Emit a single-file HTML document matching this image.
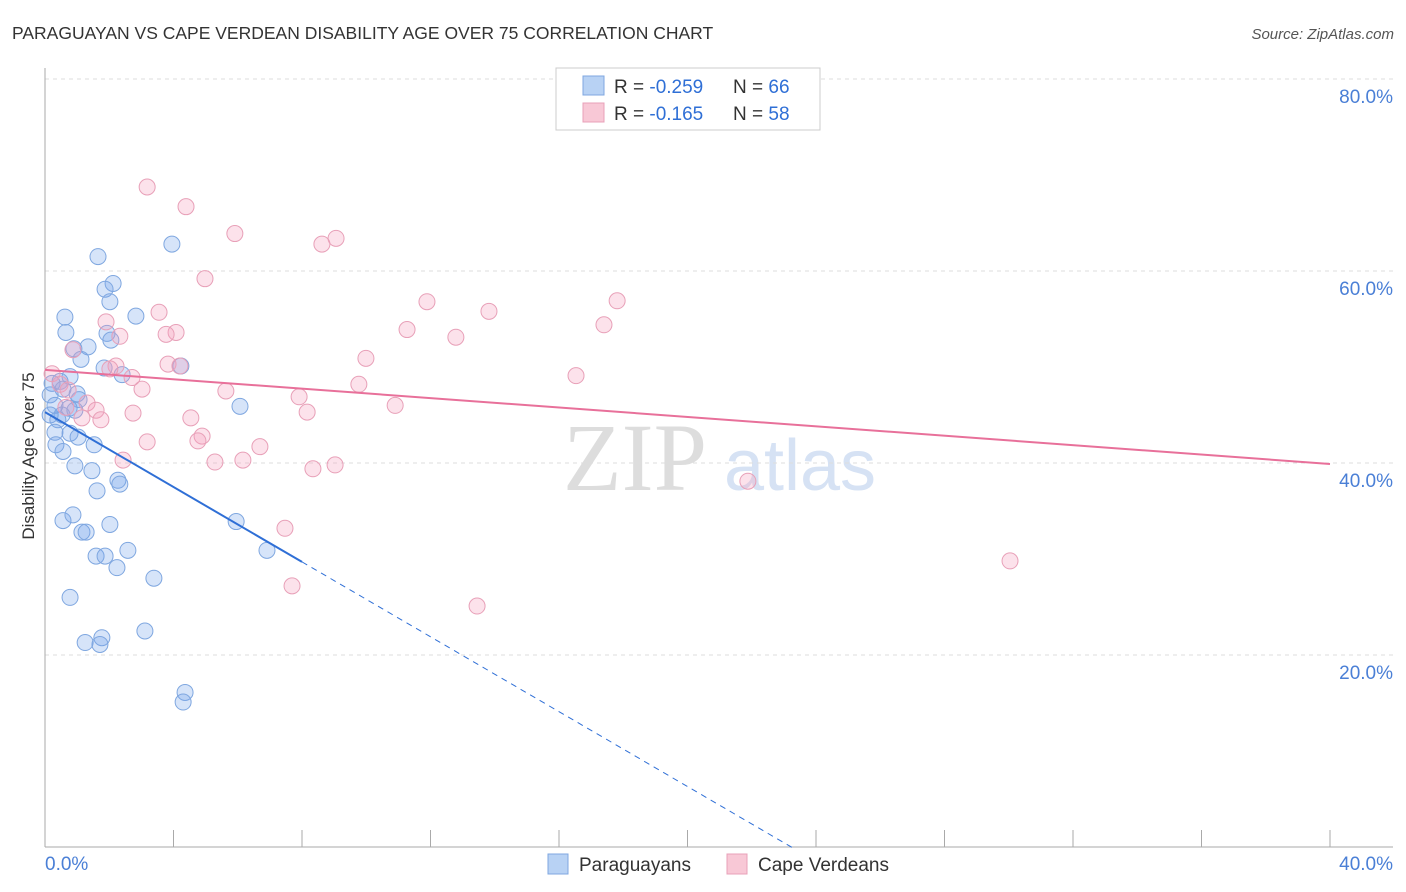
<!DOCTYPE html>
<html><head><meta charset="utf-8"><style>
body{margin:0;background:#fff;font-family:"Liberation Sans",sans-serif;}
svg{display:block}
</style></head><body>
<svg id="chart" width="1406" height="892">
<text x="12" y="39" font-size="17.5" fill="#333">PARAGUAYAN VS CAPE VERDEAN DISABILITY AGE OVER 75 CORRELATION CHART</text>
<text x="1394" y="39" font-size="15" fill="#555" font-style="italic" text-anchor="end">Source: ZipAtlas.com</text>
<text x="34" y="456" font-size="17" fill="#333" text-anchor="middle" transform="rotate(-90 34 456)">Disability Age Over 75</text>
<g><text x="635" y="490" font-size="96" fill="#ddd" text-anchor="middle" font-family="Liberation Serif,serif">ZIP</text><text x="800" y="490" font-size="72" fill="#d6e2f4" text-anchor="middle">atlas</text></g>
<g id="grid"></g><g id="axes"></g><g id="marks"></g>
<g>
<rect x="556" y="68" width="264" height="62" fill="#fff" stroke="#ccc"/>
<rect x="583" y="76" width="21" height="19" fill="#b8d2f4" stroke="#7fa7e0"/>
<rect x="583" y="103" width="21" height="19" fill="#f8c8d6" stroke="#e8a0b8"/>
<text x="614" y="93" font-size="19" fill="#333">R = <tspan fill="#2f6fd6">-0.259</tspan><tspan x="733">N = </tspan><tspan fill="#2f6fd6">66</tspan></text>
<text x="614" y="120" font-size="19" fill="#333">R = <tspan fill="#2f6fd6"> -0.165</tspan><tspan x="733">N = </tspan><tspan fill="#2f6fd6">58</tspan></text>
</g>
<g>
<rect x="548" y="854" width="20" height="20" fill="#b8d2f4" stroke="#7fa7e0"/>
<text x="579" y="871" font-size="19" fill="#333">Paraguayans</text>
<rect x="727" y="854" width="20" height="20" fill="#f8c8d6" stroke="#e8a0b8"/>
<text x="758" y="871" font-size="19" fill="#333">Cape Verdeans</text>
</g>
</svg>
<script>
const yTicks=[20,40,60,80];
const yTickLabels=["20.0%","40.0%","60.0%","80.0%"];
const xEndLabels=["0.0%","40.0%"];
const blueX=[1.65,3.95,2.12,1.87,2.02,0.62,2.83,0.65,1.93,2.05,1.34,0.9,1.12,4.23,1.84,2.4,0.78,0.47,0.22,0.56,1.0,0.16,1.06,0.31,0.75,0.93,6.07,0.53,0.16,0.4,0.31,0.78,1.03,0.34,1.53,0.56,0.93,1.46,1.62,2.27,2.33,0.56,0.87,2.02,1.15,1.28,5.95,1.59,1.87,2.58,6.91,2.24,3.39,0.78,3.11,1.77,1.25,1.71,4.36,4.3];
const blueY=[61.5,62.8,58.7,58.1,56.8,55.2,55.3,53.6,53.5,52.8,52.1,51.9,50.8,50.1,49.9,49.2,49.0,48.5,48.3,47.7,47.2,47.1,46.6,46.0,45.7,45.5,45.9,45.0,45.0,44.5,43.2,43.1,42.7,41.9,41.9,41.2,39.7,39.2,37.1,38.2,37.8,34.0,34.6,33.6,32.8,32.8,33.9,30.3,30.3,30.9,30.9,29.1,28.0,26.0,22.5,21.8,21.3,21.1,16.1,15.1];
const pinkX=[3.18,4.39,5.91,9.06,8.62,4.98,11.89,17.81,13.82,3.55,11.27,17.4,1.9,2.33,4.08,12.79,3.77,0.87,9.99,3.83,2.21,4.2,2.02,0.22,2.71,16.53,9.77,0.47,3.02,5.63,0.72,7.91,10.9,1.31,0.65,1.59,8.16,2.74,4.54,1.15,1.74,4.89,4.76,6.69,3.18,2.43,6.16,5.29,9.03,8.34,21.88,7.47,30.04,7.69,13.45];
const pinkY=[68.75,66.7,63.9,63.4,62.8,59.2,56.8,56.9,55.8,55.7,53.9,54.4,54.7,53.2,53.6,53.1,53.4,51.8,50.9,50.3,50.1,50.1,49.8,49.3,48.9,49.1,48.2,48.2,47.7,47.5,47.6,46.9,46.0,46.25,45.8,45.5,45.3,45.2,44.7,44.7,44.5,42.8,42.3,41.7,42.2,40.3,40.3,40.1,39.8,39.4,38.1,33.2,29.8,27.2,25.1];
const blueTrend=[45.3,-1.95]; // intercept, slope
const pinkTrend=[49.7,-0.245];
const blueSolidEnd=8.0, blueDashEnd=23.35;
const X=v=>45+v*32.125, Y=v=>847-v*9.6;
const NS="http://www.w3.org/2000/svg";
function mk(tag,attrs,parent){const e=document.createElementNS(NS,tag);for(const k in attrs)e.setAttribute(k,attrs[k]);parent.appendChild(e);return e;}
const grid=document.getElementById('grid'),axes=document.getElementById('axes'),marks=document.getElementById('marks');
yTicks.forEach((t,i)=>{
 const l=mk('line',{x1:45,x2:1393,y1:Y(t),y2:Y(t),stroke:'#ddd','stroke-dasharray':'4 4'},grid);
 
 
 const tx=mk('text',{x:1393,y:Y(t)+24,'font-size':19,fill:'#4a7fd6','text-anchor':'end'},grid);
 tx.textContent=yTickLabels[i];
 
 
});
const ya=mk('line',{x1:45,x2:45,y1:68,y2:847,stroke:'#aaa'},axes);


const xa=mk('line',{x1:45,x2:1393,y1:847,y2:847,stroke:'#aaa'},axes);


for(let i=0;i<=10;i++){
 const t=mk('line',{x1:X(i*4),x2:X(i*4),y1:830,y2:847,stroke:'#aaa'},axes);
 
 
}
const xl0=mk('text',{x:45,y:870,'font-size':19,fill:'#4a7fd6'},axes);xl0.textContent=xEndLabels[0];


const xl1=mk('text',{x:1393,y:870,'font-size':19,fill:'#4a7fd6','text-anchor':'end'},axes);xl1.textContent=xEndLabels[1];


blueX.forEach((v,i)=>{
 const c=mk('circle',{cx:X(v),cy:Y(blueY[i]),r:8,fill:'rgba(120,165,235,0.3)',stroke:'#7fa7e0','stroke-width':1},marks);
 
 
});
pinkX.forEach((v,i)=>{
 const c=mk('circle',{cx:X(v),cy:Y(pinkY[i]),r:8,fill:'rgba(245,160,190,0.3)',stroke:'#e8a0b8','stroke-width':1},marks);
 
 
});
const bt=x=>blueTrend[0]+blueTrend[1]*x, pt=x=>pinkTrend[0]+pinkTrend[1]*x;
const b1=mk('line',{x1:X(0),y1:Y(bt(0)),x2:X(blueSolidEnd),y2:Y(bt(blueSolidEnd)),stroke:'#2f6fd6','stroke-width':2},marks);


const b2=mk('line',{x1:X(blueSolidEnd),y1:Y(bt(blueSolidEnd)),x2:X(blueDashEnd),y2:Y(bt(blueDashEnd)),stroke:'#2f6fd6','stroke-width':1,'stroke-dasharray':'6 5'},marks);


const p1=mk('line',{x1:X(0),y1:Y(pt(0)),x2:X(40),y2:Y(pt(40)),stroke:'#e8709a','stroke-width':2},marks);


</script>
</body></html>
